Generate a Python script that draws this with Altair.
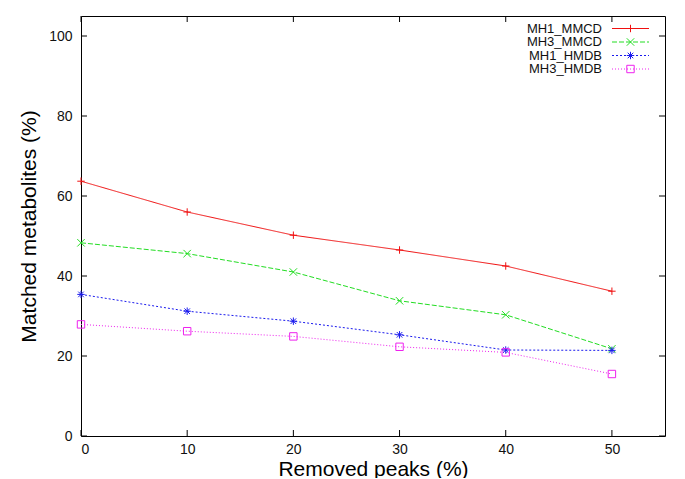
import altair as alt
import pandas as pd

removed = [0, 10, 20, 30, 40, 50]
series = ["MH1_MMCD", "MH3_MMCD", "MH1_HMDB", "MH3_HMDB"]
mh1_mmcd = [63.7, 56.0, 50.2, 46.5, 42.5, 36.2]
mh3_mmcd = [48.3, 45.6, 41.0, 33.8, 30.3, 21.8]
mh1_hmdb = [35.4, 31.2, 28.7, 25.3, 21.5, 21.4]
mh3_hmdb = [27.9, 26.2, 24.9, 22.3, 20.9, 15.5]
x_ticks = [0, 10, 20, 30, 40, 50]
y_ticks = [0, 20, 40, 60, 80, 100]

colors = ["#f01010", "#22dd22", "#1a1aee", "#ee22ee"]
dashes = [[1, 0], [5, 2], [2, 2], [1, 2]]
shapes = [
    "M-1,0L1,0M0,-1L0,1",
    "M-1,-1L1,1M-1,1L1,-1",
    "M-1,0L1,0M0,-1L0,1M-0.75,-0.75L0.75,0.75M-0.75,0.75L0.75,-0.75",
    "square",
]

FONT = "Liberation Sans"
W, H = 584, 420

rows = []
for name, vals in zip(series, [mh1_mmcd, mh3_mmcd, mh1_hmdb, mh3_hmdb]):
    for xv, yv in zip(removed, vals):
        rows.append({"series": name, "x": xv, "y": yv})
df = pd.DataFrame(rows)

xscale = alt.Scale(domain=[0, 55], nice=False, zero=False)
yscale = alt.Scale(domain=[0, 105], nice=False, zero=False)
cscale = alt.Scale(domain=series, range=colors)
dscale = alt.Scale(domain=series, range=dashes)
sscale = alt.Scale(domain=series, range=shapes)

x_axis = alt.Axis(values=x_ticks, ticks=False, tickSize=0, domain=False, grid=False,
                  labelPadding=6, title="Removed peaks (%)", titlePadding=2,
                  labelFontSize=14, titleFontSize=21)
y_axis = alt.Axis(values=y_ticks, ticks=False, tickSize=0, domain=False, grid=False,
                  labelPadding=9, title="Matched metabolites (%)", titlePadding=9,
                  labelFontSize=14, titleFontSize=21)

base = alt.Chart(df)
lines = base.mark_line(strokeWidth=1).encode(
    x=alt.X("x:Q", scale=xscale, axis=x_axis),
    y=alt.Y("y:Q", scale=yscale, axis=y_axis),
    color=alt.Color("series:N", scale=cscale, legend=None),
    strokeDash=alt.StrokeDash("series:N", scale=dscale, legend=None),
)
points = base.mark_point(filled=False, strokeWidth=1, size=55, opacity=1).encode(
    x=alt.X("x:Q", scale=xscale, axis=x_axis),
    y=alt.Y("y:Q", scale=yscale, axis=y_axis),
    color=alt.Color("series:N", scale=cscale, legend=None),
    shape=alt.Shape("series:N", scale=sscale, legend=None),
)

xt = alt.Chart(pd.DataFrame({"t": x_ticks}))
yt = alt.Chart(pd.DataFrame({"t": y_ticks}))
tick_len = 6
bottom_ticks = xt.mark_rule(color="black", strokeWidth=1).encode(
    x=alt.X("t:Q", scale=xscale, axis=x_axis), y=alt.value(H), y2=alt.value(H - tick_len))
top_ticks = xt.mark_rule(color="black", strokeWidth=1).encode(
    x=alt.X("t:Q", scale=xscale, axis=x_axis), y=alt.value(0), y2=alt.value(tick_len))
left_ticks = yt.mark_rule(color="black", strokeWidth=1).encode(
    y=alt.Y("t:Q", scale=yscale, axis=y_axis), x=alt.value(0), x2=alt.value(tick_len))
right_ticks = yt.mark_rule(color="black", strokeWidth=1).encode(
    y=alt.Y("t:Q", scale=yscale, axis=y_axis), x=alt.value(W), x2=alt.value(W - tick_len))

plot = alt.layer(lines, points, bottom_ticks, top_ticks, left_ticks, right_ticks)

leg = alt.Chart(pd.DataFrame({"series": series}))
ly = alt.Y("series:N", scale=alt.Scale(type="point", domain=series, range=[12.5, 53], padding=0), axis=None)
leg_text = leg.mark_text(align="right", baseline="middle", fontSize=13, font=FONT, color="#111").encode(
    x=alt.value(521), y=ly, text="series:N")
leg_rule = leg.mark_rule(strokeWidth=1).encode(
    x=alt.value(531), x2=alt.value(568), y=ly,
    color=alt.Color("series:N", scale=cscale, legend=None),
    strokeDash=alt.StrokeDash("series:N", scale=dscale, legend=None))
leg_pt = leg.mark_point(filled=False, strokeWidth=1, size=55, opacity=1).encode(
    x=alt.value(549.5), y=ly,
    color=alt.Color("series:N", scale=cscale, legend=None),
    shape=alt.Shape("series:N", scale=sscale, legend=None))
legend = alt.layer(leg_rule, leg_pt, leg_text)

chart = alt.layer(plot, legend).resolve_scale(y="independent").properties(
    width=W, height=H,
    autosize=alt.AutoSizeParams(type="none"),
    padding={"left": 73, "top": 8, "right": 12, "bottom": 42},
    background="white",
).configure_view(stroke="black", strokeWidth=1).configure_axis(
    labelFont=FONT, titleFont=FONT, labelColor="#111", titleColor="#000",
    titleFontWeight="normal",
)

chart.save("out.html", embed_options={"renderer": "svg", "actions": False})
